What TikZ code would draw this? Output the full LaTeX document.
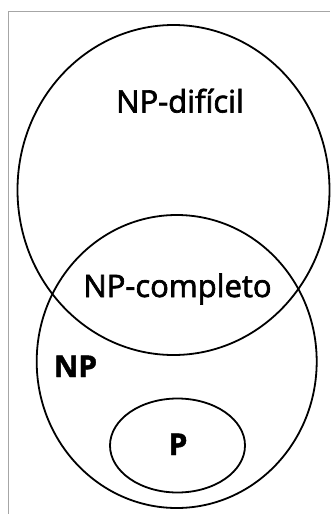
\documentclass[tikz,border=0pt]{standalone}
\usepackage{fontspec}
\setmainfont{Open Sans}
\newfontfamily\lblfont[FakeBold=2.2]{Open Sans}
\newfontfamily\blblfont[FakeBold=1.5]{Open Sans}
\begin{document}
\begin{tikzpicture}[x=1pt,y=-1pt,
  setline/.style={line width=1.8pt, draw=black},
  lbl/.style={font=\lblfont\fontsize{31}{34}\selectfont, inner sep=0pt, anchor=base},
  blbl/.style={font=\blblfont\bfseries\fontsize{30}{34}\selectfont, inner sep=0pt, anchor=base}]
\useasboundingbox (0,0) rectangle (330,514);
\fill[white] (0,0) rectangle (330,514);
% frame
\draw[gray!70, line width=1.2pt] (8.5,514) -- (8.5,11.5) -- (330,11.5);
% sets
\draw[setline] (173.5,190) ellipse [x radius=156, y radius=165];
\draw[setline] (176.7,361.5) ellipse [x radius=140, y radius=146.5];
\draw[setline] (177.5,445.5) ellipse [x radius=67.5, y radius=47];
% labels
\node[lbl] (nph) at (180,112.5) {NP-difícil};
\node[lbl] (npc) at (177.5,297) {NP-completo};
\node[blbl] (np) at (75.5,377) {NP};
\node[blbl] (p) at (178,455) {P};
\end{tikzpicture}
\end{document}
